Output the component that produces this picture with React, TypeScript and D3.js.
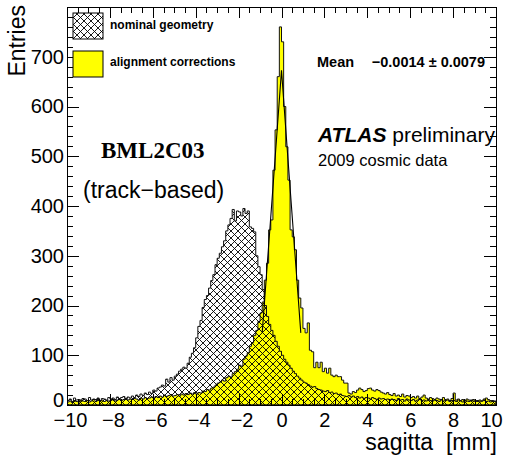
import { useEffect, useRef } from "react";
import * as d3 from "d3";

// 200 bins of 0.1 mm from -10 to 10 (entries per bin)
const nominal = [
  9, 12, 7, 14, 10, 11, 8, 13, 12, 9,
  15, 10, 12, 11, 14, 9, 13, 12, 10, 15,
  12, 14, 11, 16, 13, 15, 17, 12, 16, 14,
  18, 15, 20, 17, 22, 19, 24, 21, 26, 23,
  30, 28, 34, 36, 40, 38, 52, 46, 55, 50,
  58, 62, 68, 72, 76, 74, 84, 96, 104, 115,
  135, 158, 170, 196, 212, 220, 235, 250, 262, 282,
  295, 305, 318, 330, 350, 362, 375, 393, 370, 390,
  388, 380, 395, 385, 390, 358, 355, 348, 300, 278,
  262, 232, 200, 178, 162, 150, 140, 128, 118, 108,
  100, 92, 86, 80, 74, 68, 63, 58, 54, 50,
  46, 44, 41, 38, 36, 37, 33, 31, 30, 28,
  27, 29, 25, 26, 23, 24, 21, 22, 19, 18,
  17, 19, 16, 18, 15, 17, 14, 16, 13, 15,
  14, 12, 15, 13, 11, 14, 12, 13, 11, 12,
  10, 12, 11, 9, 13, 10, 11, 8, 12, 10,
  9, 11, 8, 10, 12, 9, 10, 8, 11, 9,
  8, 10, 9, 7, 11, 8, 9, 10, 7, 9,
  9, 7, 10, 8, 6, 9, 8, 7, 10, 8,
  7, 9, 6, 8, 10, 7, 8, 6, 9, 7,
];

const alignment = [
  6, 8, 5, 9, 7, 6, 10, 8, 7, 9,
  6, 8, 11, 7, 9, 8, 10, 7, 9, 8,
  9, 11, 8, 10, 12, 9, 11, 13, 10, 12,
  11, 13, 12, 10, 14, 12, 15, 13, 14, 16,
  14, 17, 15, 18, 16, 20, 17, 19, 21, 18,
  19, 21, 18, 22, 20, 23, 21, 24, 22, 25,
  22, 25, 24, 28, 27, 31, 30, 34, 36, 40,
  44, 46, 50, 48, 55, 58, 56, 63, 67, 72,
  80, 78, 92, 98, 105, 118, 125, 140, 150, 168,
  185, 207, 251, 285, 352, 372, 472, 553, 660, 760,
  730, 600, 519, 452, 352, 338, 312, 251, 215, 195,
  154, 145, 165, 110, 107, 75, 86, 75, 86, 67,
  74, 64, 74, 60, 57, 60, 57, 57, 50, 44,
  44, 24, 22, 27, 25, 30, 34, 31, 27, 29,
  33, 34, 30, 28, 31, 29, 26, 24, 22, 25,
  21, 19, 23, 18, 20, 17, 22, 16, 19, 18,
  15, 17, 14, 18, 13, 16, 20, 14, 12, 15,
  13, 11, 14, 12, 10, 15, 11, 12, 9, 13,
  24, 10, 12, 9, 11, 8, 12, 10, 9, 11,
  9, 7, 10, 8, 12, 14, 11, 9, 7, 8,
];

// fit curve drawn over the peak
const fitX = [-0.9, -0.6, -0.3, 0, 0.3, 0.6, 0.9];
const fitY = [145, 320, 495, 673, 495, 320, 145];

const xTicks = [-10, -8, -6, -4, -2, 0, 2, 4, 6, 8, 10];
const yTicks = [0, 100, 200, 300, 400, 500, 600, 700];

const sans = "'Liberation Sans', Arial, Helvetica, sans-serif";

export default function App() {
  const svgRef = useRef<SVGSVGElement>(null);

  useEffect(() => {
    const svg = d3.select(svgRef.current);
    svg.selectAll("*").remove();

    const left = 67, right = 496, top = 7, bottom = 405;
    const x = d3.scaleLinear().domain([-10, 10]).range([left, right]);
    const y = d3.scaleLinear().domain([0, 800]).range([bottom, top]);

    const defs = svg.append("defs");
    const pat = defs.append("pattern")
      .attr("id", "xhatch")
      .attr("patternUnits", "userSpaceOnUse")
      .attr("width", 7)
      .attr("height", 7);
    pat.append("path")
      .attr("d", "M0,0L7,7M7,0L0,7")
      .attr("stroke", "#000")
      .attr("stroke-width", 0.9);

    defs.append("clipPath").attr("id", "plotclip")
      .append("rect")
      .attr("x", left).attr("y", top)
      .attr("width", right - left).attr("height", bottom - top);

    svg.append("rect")
      .attr("width", 511).attr("height", 458)
      .attr("fill", "#fff");

    const binW = 20 / nominal.length;
    const steps = (vals: number[]) => {
      const pts = vals.map((v, i) => [-10 + i * binW, v] as [number, number]);
      pts.push([10, vals[vals.length - 1]]);
      return pts;
    };

    const area = d3.area<[number, number]>()
      .x(d => x(d[0]))
      .y0(y(0))
      .y1(d => y(d[1]))
      .curve(d3.curveStepAfter);

    const plot = svg.append("g").attr("clip-path", "url(#plotclip)");

    plot.append("path")
      .attr("d", area(steps(alignment)))
      .attr("fill", "#ffff00")
      .attr("stroke", "#111")
      .attr("stroke-width", 1);

    plot.append("path")
      .attr("d", area(steps(nominal)))
      .attr("fill", "url(#xhatch)")
      .attr("stroke", "#111")
      .attr("stroke-width", 1);

    const fitLine = d3.line<number>()
      .x((d, i) => x(fitX[i]))
      .y(d => y(d));
    plot.append("path")
      .attr("d", fitLine(fitY))
      .attr("fill", "none")
      .attr("stroke", "#000")
      .attr("stroke-width", 1.1);

    // frame
    svg.append("rect")
      .attr("x", left).attr("y", top)
      .attr("width", right - left).attr("height", bottom - top)
      .attr("fill", "none")
      .attr("stroke", "#000")
      .attr("stroke-width", 1)
      .attr("shape-rendering", "crispEdges");

    const xMinor = d3.range(-10, 10.001, 0.5);
    const yMinor = d3.range(0, 800.001, 20);

    const styleAxis = (g: any) => {
      g.select(".domain").remove();
      g.selectAll("line").attr("stroke", "#000").attr("shape-rendering", "crispEdges");
      g.attr("font-family", sans).attr("font-size", 20);
      g.selectAll("text").attr("fill", "#000");
    };

    // minor ticks
    svg.append("g").attr("transform", `translate(${left},0)`)
      .call(d3.axisLeft(y).tickValues(yMinor).tickSize(-6).tickFormat(() => ""))
      .call(styleAxis);
    svg.append("g").attr("transform", `translate(${right},0)`)
      .call(d3.axisRight(y).tickValues(yMinor).tickSize(-6).tickFormat(() => ""))
      .call(styleAxis);
    svg.append("g").attr("transform", `translate(0,${bottom})`)
      .call(d3.axisBottom(x).tickValues(xMinor).tickSize(-6).tickFormat(() => ""))
      .call(styleAxis);
    svg.append("g").attr("transform", `translate(0,${top})`)
      .call(d3.axisTop(x).tickValues(xMinor).tickSize(-6).tickFormat(() => ""))
      .call(styleAxis);

    // major ticks with labels
    const yAxisG = svg.append("g").attr("transform", `translate(${left},0)`)
      .call(d3.axisLeft(y).tickValues(yTicks).tickSize(-12).tickPadding(3).tickFormat(d3.format("d")))
      .call(styleAxis);
    // the zero label sits a little higher, as in the original
    yAxisG.selectAll<SVGTextElement, number>("text")
      .filter(d => d === 0)
      .attr("y", -5);

    svg.append("g").attr("transform", `translate(${right},0)`)
      .call(d3.axisRight(y).tickValues(yTicks).tickSize(-12).tickFormat(() => ""))
      .call(styleAxis);

    const xAxisG = svg.append("g").attr("transform", `translate(0,${bottom})`)
      .call(d3.axisBottom(x).tickValues(xTicks).tickSize(-11).tickPadding(8).tickFormat(d3.format("d")))
      .call(styleAxis);
    xAxisG.selectAll<SVGTextElement, number>("text")
      .attr("x", d => (d < 0 ? 3 : d === 10 ? -5 : 0));

    svg.append("g").attr("transform", `translate(0,${top})`)
      .call(d3.axisTop(x).tickValues(xTicks).tickSize(-11).tickFormat(() => ""))
      .call(styleAxis);

    // axis titles
    svg.append("text")
      .attr("transform", "translate(25,5) rotate(-90)")
      .attr("text-anchor", "end")
      .attr("font-family", sans)
      .attr("font-size", 23)
      .text("Entries");

    svg.append("text")
      .attr("x", 497).attr("y", 450)
      .attr("text-anchor", "end")
      .attr("font-family", sans)
      .attr("font-size", 23)
      .style("white-space", "pre")
      .text("sagitta  [mm]");

    // legend
    svg.append("rect")
      .attr("x", 73).attr("y", 13).attr("width", 30).attr("height", 26)
      .attr("fill", "url(#xhatch)").attr("stroke", "#000");
    svg.append("rect")
      .attr("x", 73).attr("y", 51).attr("width", 30).attr("height", 26)
      .attr("fill", "#ffff00").attr("stroke", "#000");
    svg.append("text")
      .attr("x", 110).attr("y", 29)
      .attr("font-family", sans).attr("font-size", 12).attr("font-weight", "bold")
      .text("nominal geometry");
    svg.append("text")
      .attr("x", 110).attr("y", 66)
      .attr("font-family", sans).attr("font-size", 12).attr("font-weight", "bold")
      .text("alignment corrections");

    // fit result
    svg.append("text")
      .attr("x", 317).attr("y", 67)
      .attr("font-family", sans).attr("font-size", 14.5).attr("font-weight", "bold")
      .text("Mean");
    svg.append("text")
      .attr("x", 485).attr("y", 67)
      .attr("text-anchor", "end")
      .attr("font-family", sans).attr("font-size", 14.5).attr("font-weight", "bold")
      .text("\u22120.0014 \u00b1 0.0079");

    // labels
    const atlas = svg.append("text")
      .attr("x", 318).attr("y", 142)
      .attr("font-family", sans).attr("font-size", 21);
    atlas.append("tspan").attr("font-weight", "bold").attr("font-style", "italic").text("ATLAS");
    atlas.append("tspan").text(" preliminary");

    svg.append("text")
      .attr("x", 318).attr("y", 166)
      .attr("font-family", sans).attr("font-size", 16.5)
      .text("2009 cosmic data");

    svg.append("text")
      .attr("x", 101).attr("y", 158)
      .attr("font-family", "'Liberation Serif', 'Times New Roman', serif")
      .attr("font-size", 23).attr("font-weight", "bold")
      .text("BML2C03");

    svg.append("text")
      .attr("x", 83).attr("y", 198)
      .attr("font-family", sans).attr("font-size", 23)
      .text("(track\u2212based)");
  }, []);

  return (
    <svg
      ref={svgRef}
      width={511}
      height={458}
      style={{ position: "absolute", left: 0, top: 0 }}
    />
  );
}
